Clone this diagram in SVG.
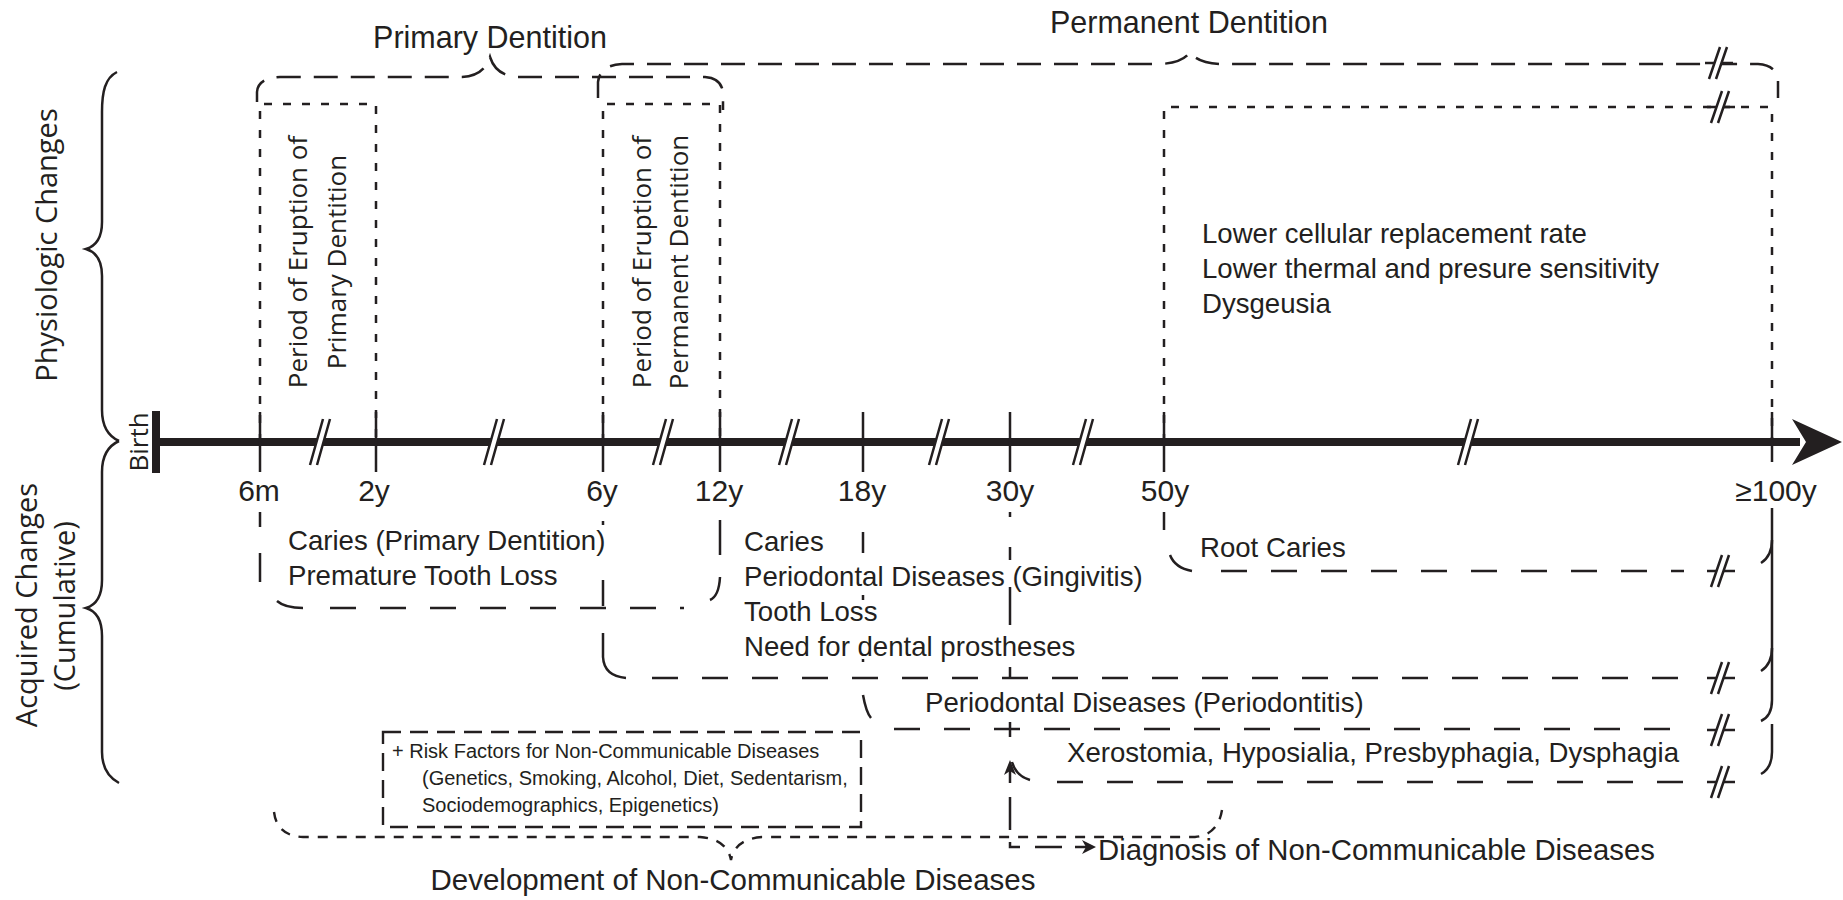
<svg xmlns="http://www.w3.org/2000/svg" xmlns:xlink="http://www.w3.org/1999/xlink" width="1843" height="900" viewBox="0 0 1843 900">
<defs>
<style>
.t{font-family:"Liberation Sans",Arial,sans-serif;fill:#231f20}
.b{font-size:27.6px}
.r{font-family:"Open Sans","Liberation Sans",sans-serif;fill:#231f20}
.halo{stroke:#fff;stroke-width:6;paint-order:stroke;stroke-linejoin:round}
.sd{fill:none;stroke:#231f20;stroke-width:2.5;stroke-dasharray:8 11}
.br{fill:none;stroke:#231f20;stroke-width:2.5;stroke-dasharray:24 13}
.ld{fill:none;stroke:#231f20;stroke-width:2.6;stroke-dasharray:26 24}
.rk{fill:none;stroke:#231f20;stroke-width:2.4;stroke-dasharray:18 9}
.dv{fill:none;stroke:#231f20;stroke-width:2.4;stroke-dasharray:10 9}
.sl{fill:none;stroke:#231f20;stroke-width:2.5}
.tk{stroke:#231f20;stroke-width:2.5}
</style>
<g id="axbrk">
<polygon points="-10,23 3,-23 10,-23 -3,23" fill="#fff"/>
<path d="M-10,23L3,-23M-3,23L10,-23" class="sl"/>
</g>
<g id="dbrk">
<path d="M-13,0H15" class="sl"/>
<polygon points="-9,16 2,-16 9,-16 -2,16" fill="#fff"/>
<path d="M-9,16L2,-16M-2,16L9,-16" class="sl"/>
</g>
</defs>
<rect width="1843" height="900" fill="#fff"/>

<g id="side-labels">
<path class="sl" d="M117,72 C105,78 102,92 102,112 L102,222 C102,238 96,246 86,249 C96,252 102,260 102,276 L102,410 C102,426 108,436 119,441"/>
<path class="sl" d="M119,441 C108,446 102,456 102,472 L102,580 C102,596 96,605 86,608 C96,611 102,620 102,636 L102,752 C102,768 108,777 119,783"/>
<text class="r" font-size="29" text-anchor="middle" transform="translate(57,245) rotate(-90)">Physiologic Changes</text>
<text class="r" font-size="29" text-anchor="middle" transform="translate(37,605) rotate(-90)">Acquired Changes</text>
<text class="r" font-size="29" text-anchor="middle" transform="translate(75,606) rotate(-90)">(Cumulative)</text>
</g>

<g id="dentition-braces">
<path class="br" d="M257,102 V92 Q258,78 280,77 H462 Q484,76 490,57 Q496,76 518,77 H705 Q721,78 723,92 V110"/>
<text class="t" font-size="30.5" text-anchor="middle" x="490" y="48">Primary Dentition</text>
<path class="br" d="M598,98 V82 Q600,65 622,64 H1160 Q1183,63 1190,52 Q1197,63 1220,64 H1758 Q1776,65 1778,80 V98"/>
<use xlink:href="#dbrk" x="1718" y="63"/>
<text class="t" font-size="30.5" text-anchor="middle" x="1189" y="33">Permanent Dentition</text>
</g>

<g id="eruption-primary">
<path class="sd" d="M260,442 V104 H376 V442"/>
<text class="r" font-size="26" text-anchor="middle" transform="translate(307,262) rotate(-90)">Period of Eruption of</text>
<text class="r" font-size="26" text-anchor="middle" transform="translate(346,262) rotate(-90)">Primary Dentition</text>
</g>

<g id="eruption-permanent">
<path class="sd" d="M603,442 V104 H720 V442"/>
<text class="r" font-size="26" text-anchor="middle" transform="translate(651,262) rotate(-90)">Period of Eruption of</text>
<text class="r" font-size="26" text-anchor="middle" transform="translate(688,262) rotate(-90)">Permanent Dentition</text>
</g>

<g id="aging-box">
<path class="sd" d="M1164,442 V107 H1772 V442"/>
<use xlink:href="#dbrk" x="1720" y="107"/>
<text class="t b" x="1202" y="243">Lower cellular replacement rate</text>
<text class="t b" x="1202" y="278">Lower thermal and presure sensitivity</text>
<text class="t b" x="1202" y="313">Dysgeusia</text>
</g>

<g id="timeline">
<path d="M156,442 H1800" stroke="#231f20" stroke-width="8"/>
<polygon points="1842,442 1792,419 1806,442 1792,465" fill="#231f20"/>
<path d="M156,411 V473" stroke="#231f20" stroke-width="8"/>
<text class="r" font-size="26" text-anchor="middle" transform="translate(148,442) rotate(-90)">Birth</text>
<path class="tk" d="M260,412V472M376,412V472M603,412V472M720,412V472M863,412V472M1010,412V472M1164,412V472M1772,412V462"/>
<use xlink:href="#axbrk" x="320" y="442"/>
<use xlink:href="#axbrk" x="494" y="442"/>
<use xlink:href="#axbrk" x="663" y="442"/>
<use xlink:href="#axbrk" x="789" y="442"/>
<use xlink:href="#axbrk" x="939" y="442"/>
<use xlink:href="#axbrk" x="1083" y="442"/>
<use xlink:href="#axbrk" x="1468" y="442"/>
<g class="t" font-size="30" text-anchor="middle">
<text x="259" y="501">6m</text>
<text x="374" y="501">2y</text>
<text x="602" y="501">6y</text>
<text x="719" y="501">12y</text>
<text x="862" y="501">18y</text>
<text x="1010" y="501">30y</text>
<text x="1165" y="501">50y</text>
<text x="1776" y="501">≥100y</text>
</g>
</g>

<g id="connectors">
<path class="sl" d="M260,512V527 M260,553V582 M277,601 Q285,608 303,608 M720,520V555 M720,577 Q719,596 710,600"/>
<path class="ld" d="M330,608 H684"/>
<path class="sl" d="M603,521V525 M603,580V606 M603,633V657 Q604,676 626,678"/>
<path class="ld" d="M652,678 H1684"/>
<path class="sl" d="M1164,512V530 M1170,555 Q1175,568 1192,571"/>
<path class="ld" d="M1221,571 H1684"/>
<path class="sl" d="M863,532V553 M863,595V600 M863,658V662 M863,695 Q866,712 871,718"/>
<path class="ld" d="M894,729 H1684"/>
<path class="sl" d="M1010,512V517 M1010,547V560 M1010,587V625 M1010,667V678 M1010,722V737"/>
<path class="sl" d="M1012,762 Q1016,776 1030,780"/>
<path class="ld" d="M1057,782 H1684"/>
<use xlink:href="#dbrk" x="1720" y="571"/>
<use xlink:href="#dbrk" x="1720" y="678"/>
<use xlink:href="#dbrk" x="1720" y="730"/>
<use xlink:href="#dbrk" x="1720" y="782"/>
<path class="sl" d="M1772,508 V700 Q1772,716 1761,721"/>
<path class="sl" d="M1772,540 Q1772,556 1761,563"/>
<path class="sl" d="M1772,648 Q1772,664 1761,671"/>
<path class="sl" d="M1772,724 V752 Q1772,768 1761,774"/>
<path class="sl" d="M1010,783 V770"/>
<polygon points="1010,760 1004,775 1010,771 1016,775" fill="#231f20"/>
<path class="sl" d="M1010,797 V830 M1010,842 V847 H1020 M1035,847 H1062 M1075,847 H1088"/>
<polygon points="1096,847 1082,840 1086,847 1082,854" fill="#231f20"/>
<path class="dv" d="M274,812 Q277,836 303,837 H700 Q727,839 731,860 Q735,839 762,837 H1195 Q1218,835 1222,810"/>
</g>

<g id="acquired-childhood">
<text class="t b halo" x="288" y="550">Caries (Primary Dentition)</text>
<text class="t b halo" x="288" y="585">Premature Tooth Loss</text>
</g>

<g id="acquired-adolescence">
<text class="t b halo" x="744" y="551">Caries</text>
<text class="t b halo" x="744" y="586">Periodontal Diseases (Gingivitis)</text>
<text class="t b halo" x="744" y="621">Tooth Loss</text>
<text class="t b halo" x="744" y="656">Need for dental prostheses</text>
</g>

<g id="acquired-root">
<text class="t b halo" x="1200" y="557">Root Caries</text>
</g>

<g id="acquired-periodontitis">
<text class="t b halo" x="925" y="712">Periodontal Diseases (Periodontitis)</text>
</g>

<g id="acquired-xerostomia">
<text class="t b halo" x="1067" y="762">Xerostomia, Hyposialia, Presbyphagia, Dysphagia</text>
</g>

<g id="risk-factors">
<rect class="rk" x="383" y="732" width="478" height="95"/>
<text class="t" font-size="20" x="392" y="758">+ Risk Factors for Non-Communicable Diseases</text>
<text class="t" font-size="20" x="422" y="785">(Genetics, Smoking, Alcohol, Diet, Sedentarism,</text>
<text class="t" font-size="20" x="422" y="812">Sociodemographics, Epigenetics)</text>
</g>

<g id="ncd-development">
<text class="t" font-size="29.5" text-anchor="middle" x="733" y="890">Development of Non-Communicable Diseases</text>
</g>

<g id="ncd-diagnosis">
<text class="t" font-size="29.3" x="1098" y="860">Diagnosis of Non-Communicable Diseases</text>
</g>
</svg>
